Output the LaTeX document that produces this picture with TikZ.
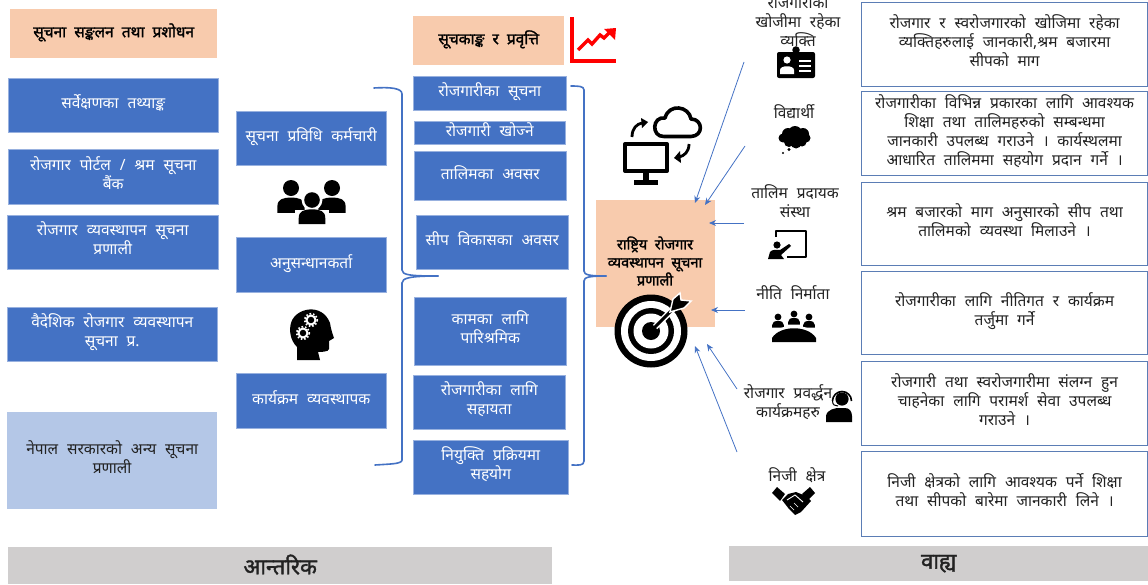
\documentclass[tikz,border=0pt]{standalone}
\usepackage{fontspec}
\setmainfont[Script=Devanagari,WordSpace=2.2]{Noto Sans}
\newfontfamily\heavyface[Script=Devanagari,WordSpace=2,FakeBold=1.6]{Noto Sans}
\usetikzlibrary{arrows.meta}
\definecolor{bluefill}{HTML}{4472C4}
\definecolor{peachfill}{HTML}{F8CBAD}
\definecolor{lightfill}{HTML}{B4C7E7}
\definecolor{grayfill}{HTML}{D0CECE}
\definecolor{boxline}{HTML}{5B7DB5}
\definecolor{txtgray}{HTML}{222222}
\newcommand\personicon[3]{\begin{scope}[shift={(#1,#2)},scale=#3]
\fill (0,0) circle (1);
\fill (-1.7,3.1) -- (-1.7,2.3) .. controls (-1.7,1.4) and (-1,1.2) .. (0,1.2) .. controls (1,1.2) and (1.7,1.4) .. (1.7,2.3) -- (1.7,3.1) -- cycle;
\end{scope}}
\tikzset{
 boxbase/.style={anchor=north west,inner sep=0pt,align=center,font=\fontsize{15.5}{19}\selectfont,
   execute at begin node={\rule{0pt}{15pt}},execute at end node={\rule[-8pt]{0pt}{0pt}}},
 bluebox/.style={boxbase,fill=bluefill,draw=bluefill!55!white,line width=.5pt,text=white},
 peachbox/.style={boxbase,fill=peachfill,text=black,font=\fontsize{15.5}{19}\heavyface},
 lightbox/.style={boxbase,fill=lightfill,text=txtgray},
 graybox/.style={anchor=north west,inner sep=0pt,align=center,fill=grayfill,text=txtgray,font=\fontsize{22}{24}\heavyface},
 infobox/.style={boxbase,draw=boxline,line width=1.2pt,text=txtgray},
 actorlabel/.style={inner sep=0pt,align=center,text=txtgray,font=\fontsize{15.5}{19}\selectfont},
 flowarrow/.style={draw=bluefill,line width=.8pt,-{Stealth[length=7pt,width=6pt]}},
 bracket/.style={draw=bluefill,line width=1.6pt,line cap=round}
}
\begin{document}
\begin{tikzpicture}[x=1pt,y=-1pt]
\useasboundingbox (0,0) rectangle (1148,584);
% left column
\node[peachbox,minimum width=207pt,minimum height=49pt] (h1) at (10,9) {सूचना सङ्कलन तथा प्रशोधन};
\node[bluebox,minimum width=210pt,minimum height=54pt] (a1) at (8,78) {सर्वेक्षणका तथ्याङ्क};
\node[bluebox,minimum width=210pt,minimum height=55pt] (a2) at (8,149) {रोजगार पोर्टल / श्रम सूचना\\बैंक};
\node[bluebox,minimum width=211pt,minimum height=54pt] (a3) at (7,215) {रोजगार व्यवस्थापन सूचना\\प्रणाली};
\node[bluebox,minimum width=210pt,minimum height=54pt] (a4) at (7,307) {वैदेशिक रोजगार व्यवस्थापन\\सूचना प्र.};
\node[lightbox,minimum width=210pt,minimum height=97pt] (a5) at (7,412) {नेपाल सरकारको अन्य सूचना\\प्रणाली};
% middle column
\node[bluebox,minimum width=150pt,minimum height=54pt] (b1) at (236,111) {सूचना प्रविधि कर्मचारी};
\node[bluebox,minimum width=150pt,minimum height=55pt] (b2) at (236,237) {अनुसन्धानकर्ता};
\node[bluebox,minimum width=150pt,minimum height=55pt] (b3) at (236,373) {कार्यक्रम व्यवस्थापक};
% third column
\node[peachbox,minimum width=151pt,minimum height=49pt] (h2) at (413,16) {सूचकाङ्क र प्रवृत्ति};
\node[bluebox,minimum width=153pt,minimum height=34pt] (c1) at (413,76) {रोजगारीका सूचना};
\node[bluebox,minimum width=151pt,minimum height=23pt] (c2) at (414,121) {रोजगारी खोज्ने};
\node[bluebox,minimum width=152pt,minimum height=49pt] (c3) at (414,151) {तालिमका अवसर};
\node[bluebox,minimum width=152pt,minimum height=54pt] (c4) at (416,215) {सीप विकासका अवसर};
\node[bluebox,minimum width=152pt,minimum height=68pt] (c5) at (414,297) {कामका लागि\\पारिश्रमिक};
\node[bluebox,minimum width=152pt,minimum height=54pt] (c6) at (413,375) {रोजगारीका लागि\\सहायता};
\node[bluebox,minimum width=155pt,minimum height=54pt] (c7) at (413,440) {नियुक्ति प्रक्रियमा\\सहयोग};
% centre
\node[peachbox,minimum width=119pt,minimum height=127pt] (core) at (596,200) {};
\node[inner sep=0pt,align=center,font=\fontsize{14.5}{18}\heavyface] (coretext) at (655,261) {राष्ट्रिय रोजगार\\व्यवस्थापन सूचना\\प्रणाली};
% right info boxes
\node[infobox,minimum width=286pt,minimum height=84pt] (d1) at (861,2) {रोजगार र स्वरोजगारको खोजिमा रहेका\\व्यक्तिहरुलाई जानकारी,श्रम बजारमा\\सीपको माग};
\node[infobox,minimum width=286pt,minimum height=84pt] (d2) at (861,91) {रोजगारीका विभिन्न प्रकारका लागि आवश्यक\\शिक्षा तथा तालिमहरुको सम्बन्धमा\\जानकारी उपलब्ध गराउने । कार्यस्थलमा\\आधारित तालिममा सहयोग प्रदान गर्ने ।};
\node[infobox,minimum width=286pt,minimum height=83pt] (d3) at (861,182) {श्रम बजारको माग अनुसारको सीप तथा\\तालिमको व्यवस्था मिलाउने ।};
\node[infobox,minimum width=286pt,minimum height=83pt] (d4) at (861,271) {रोजगारीका लागि नीतिगत र कार्यक्रम\\तर्जुमा गर्ने};
\node[infobox,minimum width=286pt,minimum height=84pt] (d5) at (861,361) {रोजगारी तथा स्वरोजगारीमा संलग्न हुन\\चाहनेका लागि परामर्श सेवा उपलब्ध\\गराउने ।};
\node[infobox,minimum width=286pt,minimum height=85pt] (d6) at (861,451) {निजी क्षेत्रको लागि आवश्यक पर्ने शिक्षा\\तथा सीपको बारेमा जानकारी लिने ।};
% footers
\node[graybox,minimum width=544pt,minimum height=37pt] (f1) at (8,547) {\raisebox{2.5pt}{आन्तरिक}};
\node[graybox,minimum width=419pt,minimum height=35pt] (f2) at (729,546) {वाह्य};
% actor labels
\node[actorlabel] (e1) at (798,21) {रोजगारीका\\खोजीमा रहेका\\व्यक्ति};
\node[actorlabel] (e2) at (794,112) {विद्यार्थी};
\node[actorlabel] (e3) at (795,201) {तालिम प्रदायक\\संस्था};
\node[actorlabel] (e4) at (793,293) {नीति निर्माता};
\node[actorlabel] (e5) at (788,402) {रोजगार प्रवर्द्धन\\कार्यक्रमहरु};
\node[actorlabel] (e6) at (797,475) {निजी क्षेत्र};
% connector ends
\coordinate (s1) at (744,62); \coordinate (t1) at (695,203);
\coordinate (s2) at (745,146); \coordinate (t2) at (705,205);
\coordinate (s3) at (744,223); \coordinate (t3) at (709,223);
\coordinate (s4) at (745,310); \coordinate (t4) at (711,310);
\coordinate (s5) at (737,389); \coordinate (t5) at (707,344);
\coordinate (s6) at (737,452); \coordinate (t6) at (695,346);
\draw[flowarrow] (s1) -- (t1);
\draw[flowarrow] (s2) -- (t2);
\draw[flowarrow] (s3) -- (t3);
\draw[flowarrow] (s4) -- (t4);
\draw[flowarrow] (s5) -- (t5);
\draw[flowarrow] (s6) -- (t6);
% brackets
\coordinate (la) at (374,88); \coordinate (lb) at (375,465); \coordinate (lt) at (438,276);
\coordinate (ra) at (571,86); \coordinate (rb) at (572,465); \coordinate (rt) at (606,276);
\draw[bracket] (la) .. controls (390,87) and (402,88) .. (402,94) -- (402,270) .. controls (402,275) and (410,276) .. (lt);
\draw[bracket] (lb) .. controls (390,464) and (402,464) .. (402,460) -- (402,283) .. controls (402,278) and (410,276) .. (lt);
\draw[bracket] (ra) .. controls (578,86) and (584,86) .. (584,90) -- (584,271) .. controls (584,275) and (590,276) .. (rt);
\draw[bracket] (rb) .. controls (578,465) and (584,466) .. (584,461) -- (584,281) .. controls (584,277) and (590,276) .. (rt);
% trend icon
\draw[red,line width=4pt] (572,17) -- (572,60.5) -- (616,60.5);
\draw[red,line width=3.4pt] (578,50) -- (588,40) -- (592,44) -- (600,35) -- (604,38) -- (611,31);
\fill[red] (604,29) -- (616,28) -- (615,40) -- cycle;
% group icon
\personicon{291}{188}{8}
\personicon{332}{188}{8}
\begin{scope}[shift={(312,200)},scale=8]
\fill[white] (0,0) circle (1.3);
\fill[white] (-2.1,3.3) rectangle (2.1,1.2);
\end{scope}
\personicon{312}{200}{7.8}
% head icon
\fill (297,360) -- (297,347) .. controls (290,340) and (289,330) .. (291,323) .. controls (295,308) and (322,302) .. (330,323) .. controls (331,330) and (333,335) .. (334,338) -- (329,341) -- (329,349) .. controls (329,352) and (320,352) .. (318,352) -- (320,360) -- cycle;
\foreach \gx/\gy in {311/320,303/333}{
 \draw[white,line width=2pt] (\gx,\gy) circle (4.5);
 \draw[white,line width=1.6pt,dash pattern=on 1.6pt off 1.9pt] (\gx,\gy) circle (6.3);
}
% cloud and computer icon
\draw[line width=3.6pt,line join=round] (664,136.5) -- (691,136.5) .. controls (704,136) and (703,119) .. (691,119) .. controls (689,106) and (669,103) .. (665,118) .. controls (652,116) and (651,137) .. (664,136.5) -- cycle;
\draw[line width=4pt,line join=round] (625,144) rectangle (667,171);
\fill (643,171) rectangle (649,181);
\fill (634,180) rectangle (658,185);
\draw[line width=2.8pt] (632,137) .. controls (632,128) and (637,124) .. (642,123);
\fill (641,118) -- (648,122) -- (642,128) -- cycle;
\draw[line width=2.8pt] (689,144) .. controls (689,152) and (684,156) .. (679,157);
\fill (680,151) -- (674,158) -- (681,163) -- cycle;
% target icon
\fill (651,331) circle (36.5);
\fill[white] (651,331) circle (30);
\fill (651,331) circle (23);
\fill[white] (651,331) circle (17.5);
\fill (651,331) circle (9);
\draw[white,line width=6pt] (655,327) -- (676,306);
\draw[line width=3pt] (651,331) -- (678,304);
\filldraw[draw=white,line width=1.4pt] (670,312) -- (673,299) -- (680,293) -- (681,300) -- (691,301) -- (684,308) -- cycle;
% badge icon
\fill[rounded corners=2pt] (777,52) rectangle (815,78);
\draw[line width=1.4pt,fill=black] (796,50) circle (3);
\fill[white] (787,60) circle (3.6);
\fill[white] (780,74) -- (780,70) .. controls (780,65) and (794,65) .. (794,70) -- (794,74) -- cycle;
\fill[white] (799,60) rectangle (811,62.2);
\fill[white] (799,65) rectangle (811,67.2);
\fill[white] (799,70) rectangle (811,72.2);
% thought icon
\foreach \cx/\cy/\cr in {788/134/6,795/133/7,803/134/6,806/138/4.5,783/138/4.5,789/142/5,796/143/5.5,802/142/4.5,795/138/6}{\fill (\cx,\cy) circle (\cr);}
\fill (789,149.5) circle (1.7);
\fill (783,153) circle (1.2);
% teaching icon
\draw[line width=1.8pt,line join=round] (776,237) -- (776,231) -- (806,231) -- (806,257) -- (787,257);
\fill (777,245) circle (3.6);
\fill (768,259) -- (770,252) .. controls (772,249) and (777,250) .. (780,250) -- (789,244) -- (791,246) -- (781,255) -- (784,259) -- cycle;
% meeting icon
\personicon{778}{317}{3.4}
\personicon{809}{317}{3.4}
\fill[white] (794,314) circle (4.4);
\personicon{794}{314}{3.4}
\fill[white] (769,343) -- (769,337) .. controls (778,322) and (810,322) .. (819,337) -- (819,343) -- cycle;
\fill (772,342) -- (772,338) .. controls (780,325) and (808,325) .. (816,338) -- (816,342) -- cycle;
% headset icon
\fill (842,399) circle (6.6);
\draw[line width=1.6pt] (832.5,401) arc (180:360:9.5);
\draw[line width=1pt] (832.5,401) .. controls (832.5,405) and (835,406) .. (838,406);
\fill (826,422) -- (826,416) .. controls (827,409) and (836,408) .. (839,408) -- (845,408) .. controls (849,408) and (852,411) .. (852,416) -- (852,422) -- cycle;
% handshake icon
\fill (772,493) -- (777,487) -- (785,494) -- (780,501) -- cycle;
\fill (815,493) -- (810,487) -- (802,494) -- (807,501) -- cycle;
\fill (782,500) -- (788,494) -- (796,492) -- (806,496) -- (811,501) -- (801,512) -- (795,515) -- (789,509) -- cycle;
\draw[white,line width=.9pt] (787,500) -- (795,495) -- (803,502);
\draw[white,line width=.7pt] (790,506) -- (794,510);
\draw[white,line width=.7pt] (794,503) -- (798,507);
\end{tikzpicture}
\end{document}
